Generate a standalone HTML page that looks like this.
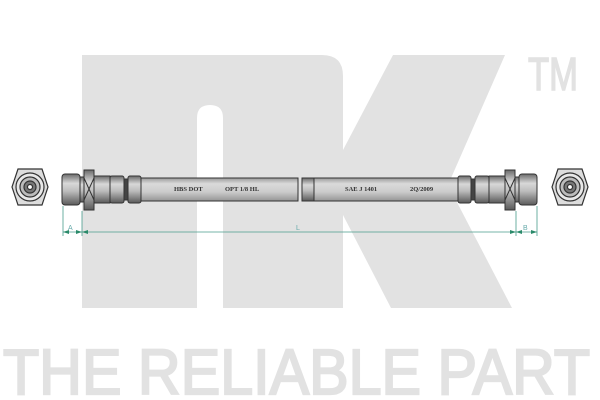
<!DOCTYPE html>
<html><head><meta charset="utf-8"><style>html,body{margin:0;padding:0;background:#fff;width:600px;height:400px;overflow:hidden}</style></head>
<body>
<svg width="600" height="400" viewBox="0 0 600 400" xmlns="http://www.w3.org/2000/svg">
<defs>
<linearGradient id="g" x1="0" y1="0" x2="0" y2="1">
<stop offset="0" stop-color="#6a6a6a"/><stop offset="0.3" stop-color="#d8d8d8"/><stop offset="0.55" stop-color="#bdbdbd"/><stop offset="1" stop-color="#5a5a5a"/></linearGradient>
<linearGradient id="t" x1="0" y1="0" x2="0" y2="1">
<stop offset="0" stop-color="#9a9a9a"/><stop offset="0.25" stop-color="#dadada"/><stop offset="0.6" stop-color="#cccccc"/><stop offset="1" stop-color="#959595"/></linearGradient>
</defs>
<g fill="#e2e2e2">
<path d="M82 55 H322 Q343 55 343 76 V308 H223 V118 Q223 105 210 105 Q197 105 197 118 V308 H82 Z"/>
<polygon points="343,150 393,55 505,55 448,185 512,308 391,308 343,215"/>
<text x="528" y="90" font-family="Liberation Sans, sans-serif" font-size="46" stroke="#e2e2e2" stroke-width="1.5" textLength="50" lengthAdjust="spacingAndGlyphs">TM</text>
<text x="3" y="394" font-family="Liberation Sans, sans-serif" font-size="64" stroke="#e2e2e2" stroke-width="2.2" textLength="587" lengthAdjust="spacingAndGlyphs">THE RELIABLE PART</text>
</g>
<g stroke="#333" fill="#ddd" stroke-width="1.2">
<polygon points="18,169 42,169 48,187 42,205 18,205 12,187"/>
<circle cx="30" cy="187" r="14" fill="#e8e8e8"/><circle cx="30" cy="187" r="10" fill="#bbb"/><circle cx="30" cy="187" r="6" fill="#777"/><circle cx="30" cy="187" r="2.5" fill="#fff"/>
<polygon points="558,169 582,169 588,187 582,205 558,205 552,187"/>
<circle cx="570" cy="187" r="14" fill="#e8e8e8"/><circle cx="570" cy="187" r="10" fill="#bbb"/><circle cx="570" cy="187" r="6" fill="#777"/><circle cx="570" cy="187" r="2.5" fill="#fff"/>
</g>
<g stroke="#333" stroke-width="1">
<rect x="140" y="178" width="158" height="23" fill="url(#t)"/>
<rect x="302" y="178" width="158" height="23" fill="url(#t)"/>
<rect x="302" y="178" width="12" height="23" fill="url(#g)"/>
<rect x="62" y="174" width="18" height="31" rx="3" fill="url(#g)"/>
<rect x="80" y="177" width="4" height="25" fill="url(#g)"/>
<rect x="84" y="170" width="10" height="40" fill="url(#g)"/>
<path d="M84 178 L94 200 M94 178 L84 200" fill="none"/>
<rect x="94" y="176" width="16" height="27" fill="url(#g)"/>
<rect x="110" y="176" width="14" height="27" rx="2" fill="url(#g)"/>
<rect x="124" y="179" width="4" height="21" fill="#444"/>
<rect x="128" y="176" width="13" height="27" rx="2" fill="url(#g)"/>
<rect x="458" y="176" width="13" height="27" rx="2" fill="url(#g)"/>
<rect x="471" y="179" width="4" height="21" fill="#444"/>
<rect x="475" y="176" width="14" height="27" rx="2" fill="url(#g)"/>
<rect x="489" y="176" width="16" height="27" fill="url(#g)"/>
<rect x="505" y="170" width="10" height="40" fill="url(#g)"/>
<path d="M505 178 L515 200 M515 178 L505 200" fill="none"/>
<rect x="515" y="177" width="4" height="25" fill="url(#g)"/>
<rect x="519" y="174" width="18" height="31" rx="3" fill="url(#g)"/>
</g>
<g font-family="Liberation Serif, serif" font-size="6.5" font-weight="bold" fill="#333">
<text x="174" y="191">HBS DOT</text><text x="225" y="191">OPT 1/8 HL</text>
<text x="345" y="191">SAE J 1401</text><text x="410" y="191">2Q/2009</text>
</g>
<g stroke="#4a9c8c" stroke-width="0.8" fill="#2a8a6a">
<line x1="63" y1="206" x2="63" y2="236"/><line x1="82" y1="211" x2="82" y2="236"/>
<line x1="516" y1="211" x2="516" y2="236"/><line x1="537" y1="206" x2="537" y2="236"/>
<line x1="63" y1="232" x2="537" y2="232"/>
<polygon points="63,232 69,230 69,234" stroke="none"/><polygon points="82,232 76,230 76,234" stroke="none"/><polygon points="82,232 88,230 88,234" stroke="none"/>
<polygon points="516,232 510,230 510,234" stroke="none"/><polygon points="516,232 522,230 522,234" stroke="none"/><polygon points="537,232 531,230 531,234" stroke="none"/>
</g>
<g font-family="Liberation Sans, sans-serif" font-size="7" fill="#6aa">
<text x="68" y="230">A</text><text x="296" y="230">L</text><text x="523" y="230">B</text>
</g>
</svg>
</body></html>
